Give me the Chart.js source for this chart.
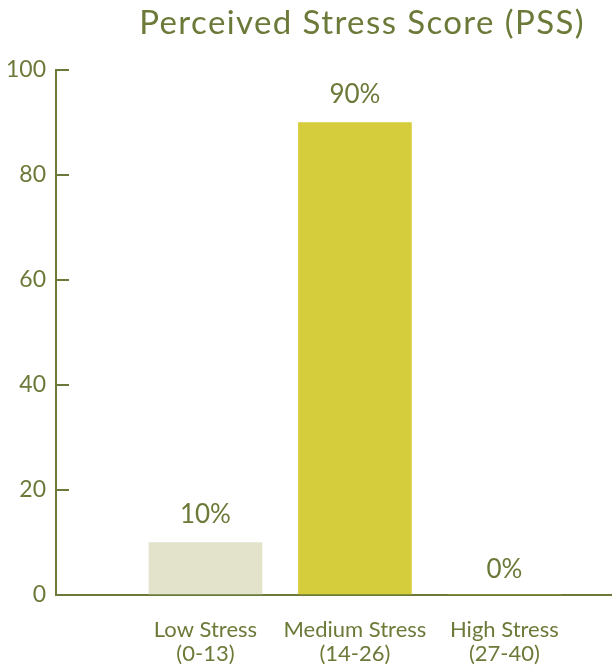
<!DOCTYPE html>
<html><head><meta charset="utf-8">
<script src="https://cdn.jsdelivr.net/npm/chart.js@4/dist/chart.umd.min.js"></script>
<style>html,body{margin:0;padding:0;background:#fff}#wrap{width:612px;height:669px;position:relative}</style>
</head><body><div id="wrap"><canvas id="c"></canvas></div>
<script>
const titleText = 'Perceived Stress Score (PSS)';
const categories = [['Low Stress', '(0-13)'], ['Medium Stress', '(14-26)'], ['High Stress', '(27-40)']];
const values = [10, 90, 0];
const valueLabels = ['10%', '90%', '0%'];
const yMin = 0, yMax = 100, yStep = 20;

const OLIVE = '#6c7a39';
const barColors = ['#e3e3cc', '#d5cd3b', '#d5cd3b'];
const FONT = 'Lato, "Open Sans", sans-serif';

const titleDraw = {
  id: 'titleDraw',
  afterDraw(chart) {
    const ctx = chart.ctx;
    ctx.save();
    ctx.font = '33px ' + FONT;
    ctx.letterSpacing = '1.4px';
    ctx.fillStyle = OLIVE;
    ctx.textAlign = 'right';
    ctx.textBaseline = 'alphabetic';
    ctx.fillText(titleText, chart.width - 27, 34);
    ctx.restore();
  }
};
const valueDraw = {
  id: 'valueDraw',
  afterDatasetsDraw(chart) {
    const ctx = chart.ctx;
    const meta = chart.getDatasetMeta(0);
    ctx.save();
    ctx.font = '26px ' + FONT;
    ctx.fillStyle = OLIVE;
    ctx.textAlign = 'center';
    ctx.textBaseline = 'alphabetic';
    meta.data.forEach((bar, i) => {
      ctx.fillText(valueLabels[i], bar.x, bar.y - (values[i] === 0 ? 17 : 20));
    });
    ctx.restore();
  }
};

new Chart(document.getElementById('c'), {
  type: 'bar',
  data: {
    datasets: [{
      data: values.map((v, i) => ({ x: i + 1, y: v })),
      backgroundColor: barColors,
      borderWidth: 0,
      barThickness: 113
    }]
  },
  options: {
    responsive: true,
    maintainAspectRatio: false,
    animation: false,
    layout: { padding: { top: 70, right: 0, bottom: 0, left: 0 } },
    plugins: { legend: { display: false }, tooltip: { enabled: false }, title: { display: false } },
    scales: {
      x: {
        type: 'linear',
        offset: false,
        min: 0,
        max: 3.72,
        afterFit: s => { s.height = 74; },
        grid: { display: false, drawTicks: false, offset: false },
        border: { display: true, color: OLIVE, width: 2 },
        ticks: {
          stepSize: 1,
          includeBounds: false,
          autoSkip: false,
          maxRotation: 0,
          padding: 23,
          color: OLIVE,
          font: { family: FONT, size: 22, lineHeight: 1.1 },
          callback: v => (Number.isInteger(v) && v >= 1 && v <= categories.length) ? categories[v - 1] : ''
        }
      },
      y: {
        min: yMin,
        max: yMax,
        afterFit: s => { s.width = 56; },
        grid: { drawOnChartArea: false, drawTicks: true, tickLength: -13, color: OLIVE, lineWidth: 2 },
        border: { display: true, color: OLIVE, width: 2 },
        ticks: {
          stepSize: yStep,
          padding: 23,
          color: OLIVE,
          font: { family: FONT, size: 23 }
        }
      }
    }
  },
  plugins: [titleDraw, valueDraw]
});
</script></body></html>
